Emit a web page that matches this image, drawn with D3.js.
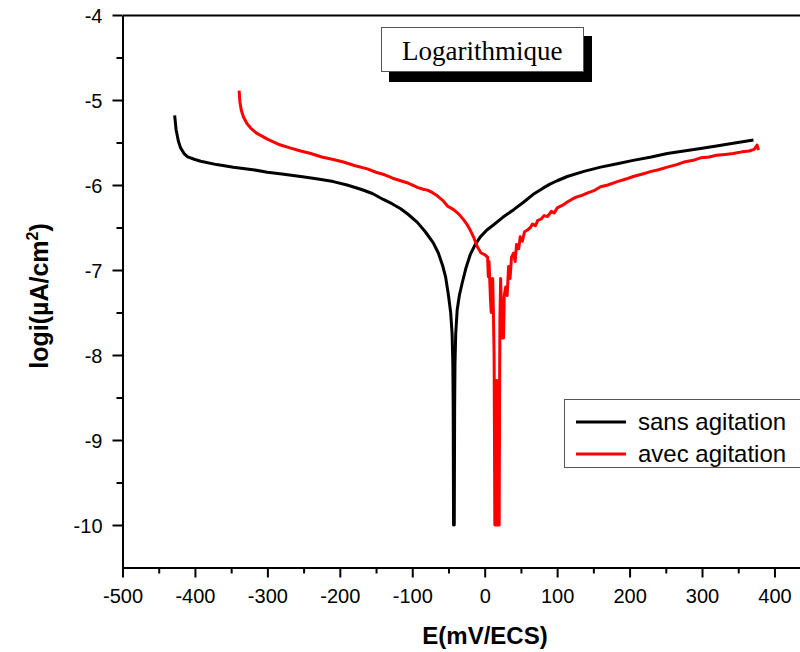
<!DOCTYPE html>
<html>
<head>
<meta charset="utf-8">
<script src="https://cdn.jsdelivr.net/npm/d3@7"></script>
<style>
  body { margin: 0; background: #fff; }
  svg { display: block; }
</style>
</head>
<body>
<svg id="chart" width="800" height="652"></svg>
<script>
// E (mV/ECS) and log i
const sansE = [-428,-426,-423,-420,-415,-410,-400,-392,-370,-347,-320,-300,-280,-254,-230,-209,-190,-171,-155,-140,-128,-116,-105,-93,-82,-71,-64,-58,-54,-50,-47,-45,-44,-43.5,-43,-42,-41.5,-41,-40,-38,-35,-31,-26,-20,-13,-6,3,12,25,40,54,67,80,90,100,114,137,160,183,205,230,252,275,298,320,343,371];
const sansLogi = [-5.18,-5.35,-5.48,-5.56,-5.63,-5.67,-5.70,-5.72,-5.76,-5.79,-5.82,-5.85,-5.87,-5.90,-5.93,-5.96,-6.00,-6.05,-6.10,-6.17,-6.22,-6.28,-6.35,-6.44,-6.55,-6.68,-6.80,-6.95,-7.08,-7.30,-7.50,-7.75,-8.10,-8.60,-10,-10,-8.60,-8.10,-7.75,-7.47,-7.30,-7.15,-6.98,-6.82,-6.70,-6.61,-6.53,-6.47,-6.38,-6.29,-6.20,-6.11,-6.04,-5.99,-5.95,-5.90,-5.84,-5.79,-5.75,-5.71,-5.67,-5.63,-5.60,-5.57,-5.54,-5.51,-5.47];

const avecE = [-339,-338,-336,-333,-328,-323,-315,-300,-285,-270,-254,-240,-225,-209,-195,-180,-162,-150,-138,-127,-116,-105,-92,-85,-79,-72,-65,-58,-51,-43,-36,-29,-24,-20,-15,-10,-5,0,4,5,6,8,9,11,12,13,14,15,16,17,18,19,20,20.5,21,22,24,26,27,29,31,33,35,37,40,42,44,47,49,52,55,59,63,66,70,73,78,82,87,92,96,100,107,114,120,127,135,143,150,160,170,183,195,205,218,230,240,252,265,275,288,298,310,320,332,343,355,365,372,376,378];
const avecLogi = [-4.89,-5.02,-5.12,-5.20,-5.28,-5.33,-5.39,-5.46,-5.52,-5.56,-5.60,-5.63,-5.67,-5.70,-5.73,-5.77,-5.81,-5.85,-5.88,-5.92,-5.95,-5.98,-6.03,-6.05,-6.06,-6.09,-6.13,-6.18,-6.25,-6.29,-6.34,-6.41,-6.47,-6.53,-6.62,-6.73,-6.80,-6.82,-6.85,-7.08,-6.90,-7.35,-7.50,-7.10,-7.50,-8.00,-10,-8.30,-10,-8.30,-10,-8.30,-10,-8.60,-7.60,-7.10,-7.80,-7.80,-7.30,-7.20,-7.30,-6.96,-7.10,-6.85,-6.80,-6.90,-6.70,-6.75,-6.61,-6.66,-6.55,-6.53,-6.50,-6.46,-6.48,-6.42,-6.40,-6.36,-6.37,-6.31,-6.33,-6.27,-6.24,-6.20,-6.17,-6.14,-6.12,-6.09,-6.07,-6.02,-6.00,-5.96,-5.93,-5.90,-5.87,-5.84,-5.82,-5.79,-5.76,-5.73,-5.71,-5.68,-5.67,-5.65,-5.64,-5.63,-5.61,-5.60,-5.58,-5.53,-5.59];

const xMajor = [-500,-400,-300,-200,-100,0,100,200,300,400];
const xMinor = [-450,-350,-250,-150,-50,50,150,250,350,450];
const yMajor = [-10,-9,-8,-7,-6,-5,-4];
const yMinor = [-9.5,-8.5,-7.5,-6.5,-5.5,-4.5];

const seriesNames = ["sans agitation", "avec agitation"];
const seriesColors = ["#000000", "#ff0000"];

const svg = d3.select('#chart');
const sansFont = "'Liberation Sans', Arial, sans-serif";

const x = d3.scaleLinear().domain([-500, 500]).range([122.5, 846.9]);
const y = d3.scaleLinear().domain([-10.5, -4]).range([567.5, 15]);

// minor ticks first
svg.append('g')
    .attr('transform', 'translate(0,567.5)')
    .call(d3.axisBottom(x).tickValues(xMinor).tickSize(6).tickSizeOuter(0).tickFormat(''))
    .call(g => g.select('.domain').remove())
    .selectAll('line').attr('stroke-width', 2);
svg.append('g')
    .attr('transform', 'translate(122.5,0)')
    .call(d3.axisLeft(y).tickValues(yMinor).tickSize(6).tickSizeOuter(0).tickFormat(''))
    .call(g => g.select('.domain').remove())
    .selectAll('line').attr('stroke-width', 2);

// main axes
const xAxis = svg.append('g')
    .attr('transform', 'translate(0,567.5)')
    .call(d3.axisBottom(x).tickValues(xMajor).tickSize(10).tickSizeOuter(0).tickFormat(d3.format('d')));
xAxis.selectAll('line').attr('stroke-width', 2);
xAxis.select('.domain').attr('stroke-width', 2);
xAxis.selectAll('text')
    .attr('y', 35).attr('dy', 0)
    .style('font-family', sansFont).style('font-size', '20px').attr('fill', '#000')
    .text(d => d < 0 ? '-' + Math.abs(d) : d);

const yAxis = svg.append('g')
    .attr('transform', 'translate(122.5,0)')
    .call(d3.axisLeft(y).tickValues(yMajor).tickSize(10).tickSizeOuter(0));
yAxis.selectAll('line').attr('stroke-width', 2);
yAxis.select('.domain').attr('stroke-width', 2);
yAxis.selectAll('text')
    .attr('x', -20).attr('dy', '0.35em')
    .style('font-family', sansFont).style('font-size', '20px').attr('fill', '#000')
    .text(d => '-' + Math.abs(d));

// top frame line
svg.append('g')
    .attr('transform', 'translate(0,15)')
    .call(d3.axisTop(x).tickValues([]).tickSizeOuter(0))
    .select('.domain').attr('stroke-width', 2);

// curves
const line = d3.line().x(d => x(d[0])).y(d => y(d[1]));
const sansData = sansE.map((e, i) => [e, sansLogi[i]]);
const avecData = avecE.map((e, i) => [e, avecLogi[i]]);

svg.append('path')
    .datum(sansData)
    .attr('d', line)
    .attr('fill', 'none')
    .attr('stroke', seriesColors[0])
    .attr('stroke-width', 3)
    .attr('stroke-linejoin', 'round');

svg.append('path')
    .datum(avecData)
    .attr('d', line)
    .attr('fill', 'none')
    .attr('stroke', seriesColors[1])
    .attr('stroke-width', 3)
    .attr('stroke-linejoin', 'round');

// axis titles
svg.append('text')
    .attr('x', 485).attr('y', 644)
    .attr('text-anchor', 'middle')
    .style('font-family', sansFont).style('font-size', '24px').style('font-weight', 'bold')
    .text('E(mV/ECS)');

const yTitle = svg.append('text')
    .attr('transform', 'translate(48,296) rotate(-90)')
    .attr('text-anchor', 'middle')
    .style('font-family', sansFont).style('font-size', '25px').style('font-weight', 'bold');
yTitle.append('tspan').text('logi(µA/cm');
yTitle.append('tspan').attr('dy', -10).style('font-size', '16px').text('2');
yTitle.append('tspan').attr('dy', 10).text(')');

// title box with shadow
svg.append('rect')
    .attr('x', 389).attr('y', 36).attr('width', 203).attr('height', 46)
    .attr('fill', '#000');
svg.append('rect')
    .attr('x', 381.5).attr('y', 27.5).attr('width', 202).attr('height', 44)
    .attr('fill', '#fff').attr('stroke', '#555').attr('stroke-width', 1);
svg.append('text')
    .attr('x', 402).attr('y', 60)
    .style('font-family', "'Liberation Serif', 'Times New Roman', serif").style('font-size', '27px')
    .text('Logarithmique');

// legend
svg.append('rect')
    .attr('x', 564.5).attr('y', 399.5).attr('width', 245).attr('height', 68)
    .attr('fill', '#fff').attr('stroke', '#555').attr('stroke-width', 1);
const legend = svg.append('g').selectAll('g')
    .data(seriesNames)
    .join('g')
    .attr('transform', (d, i) => `translate(576,${422 + i * 32})`);
legend.append('line')
    .attr('x1', 0).attr('x2', 50)
    .attr('stroke', (d, i) => seriesColors[i])
    .attr('stroke-width', 3);
legend.append('text')
    .attr('x', 62).attr('y', 8)
    .style('font-family', sansFont).style('font-size', '24px')
    .text(d => d);
</script>
</body>
</html>
